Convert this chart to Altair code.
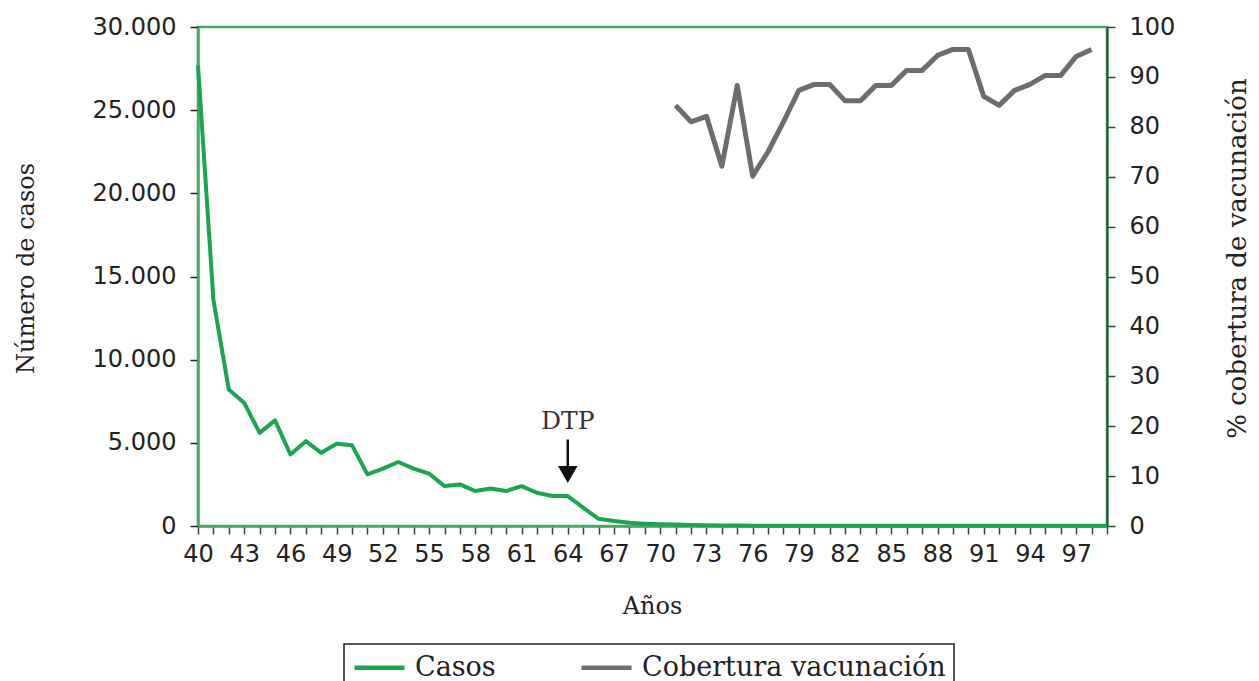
import altair as alt
import pandas as pd

# ---------------- data ----------------
years_casos = list(range(40, 100))
casos = [27700, 13600, 8200, 7400, 5600, 6350, 4300, 5100, 4400, 4950,
         4850, 3100, 3450, 3850, 3450, 3150, 2400, 2500, 2100, 2250,
         2100, 2400, 2000, 1800, 1800, 1100, 430, 300, 190, 140,
         110, 90, 60, 40, 30, 25, 20, 20, 20, 15,
         15, 15, 15, 12, 12, 12, 10, 10, 10, 10,
         10, 10, 10, 10, 10, 10, 10, 10, 10, 10]

years_cob = list(range(71, 99))
cobertura = [84.3, 81.0, 82.1, 72.1, 88.3, 70.1, 75.0, 81.0, 87.3, 88.5,
             88.5, 85.2, 85.2, 88.3, 88.3, 91.3, 91.3, 94.3, 95.5, 95.5,
             86.1, 84.3, 87.3, 88.5, 90.3, 90.3, 94.1, 95.5]

series = ["Casos", "Cobertura vacunación"]
left_ticks = [0, 5000, 10000, 15000, 20000, 25000, 30000]
right_ticks = list(range(0, 101, 10))
x_ticks = list(range(40, 100))

dtp_year = [64]
dtp_label_value = [6300]
arrow_top = [5200]
arrow_bottom = [3600]
arrow_head = [3100]

# ---------------- styling ----------------
GREEN = "#1ba552"
GRAY = "#6b6d6f"
AXIS_GREEN = "#47a868"
DARK_GREEN = "#1d5030"
SANS = "DejaVu Sans"
SERIF = "DejaVu Serif"

df_c = pd.DataFrame({"anio": years_casos, "valor": casos, "serie": series[0]})
df_v = pd.DataFrame({"anio": years_cob, "valor": cobertura, "serie": series[1]})
df_dtp = pd.DataFrame({"anio": dtp_year, "valor": dtp_label_value, "txt": ["DTP"]})
df_arrow = pd.DataFrame({"anio": dtp_year, "valor": arrow_top, "valor2": arrow_bottom})
df_head = pd.DataFrame({"anio": dtp_year, "valor": arrow_head})

x_enc = alt.X(
    "anio:Q",
    scale=alt.Scale(domain=[40, 99], nice=False, zero=False),
    axis=alt.Axis(
        values=x_ticks,
        labelExpr="(datum.value - 40) % 3 == 0 ? datum.label : ''",
        labelOverlap=False,
        labelFlush=False,
        title="Años",
        titleX=454,
        titleY=80,
        titleBaseline="middle",
        titleAlign="center",
        titleAnchor="middle",
        tickSize=8,
        tickColor="#2f4a38",
        tickWidth=1.5,
        domainColor=AXIS_GREEN,
        domainWidth=2.5,
        labelPadding=8,
        grid=False,
    ),
)

y_left = alt.Y(
    "valor:Q",
    scale=alt.Scale(domain=[0, 30000], nice=False),
    axis=alt.Axis(
        values=left_ticks,
        labelExpr="replace(format(datum.value, ','), ',', '.')",
        labelFlush=False,
        title="Número de casos",
        titleX=-172,
        titleY=241,
        titleAngle=270,
        titleBaseline="middle",
        titleAlign="center",
        tickSize=8,
        tickColor="#222222",
        tickWidth=1.5,
        domainColor=AXIS_GREEN,
        domainWidth=2.5,
        labelPadding=14,
        grid=False,
    ),
)

y_right = alt.Y(
    "valor:Q",
    scale=alt.Scale(domain=[0, 100], nice=False),
    axis=alt.Axis(
        orient="right",
        values=right_ticks,
        labelFlush=False,
        title="% cobertura de vacunación",
        titleX=130,
        titleY=231,
        titleAngle=270,
        titleBaseline="middle",
        titleAlign="center",
        titleFontSize=26,
        tickSize=8,
        tickColor=DARK_GREEN,
        tickWidth=1.5,
        domainColor=DARK_GREEN,
        domainWidth=2,
        labelPadding=14,
        grid=False,
    ),
)

color_enc = alt.Color(
    "serie:N",
    scale=alt.Scale(domain=series, range=[GREEN, GRAY]),
    legend=alt.Legend(
        title=None,
        orient="none",
        legendX=146,
        legendY=617,
        direction="horizontal",
        symbolType="M-1,0L2.85,0",
        symbolSize=676,
        symbolStrokeWidth=4.5,
        labelFont=SERIF,
        labelFontSize=27,
        labelColor="#222222",
        labelOffset=32,
        labelLimit=500,
        columnPadding=76,
        padding=8,
        strokeColor="#222222",
    ),
)

casos_line = alt.Chart(df_c).mark_line(strokeWidth=4, strokeJoin="round").encode(
    x=x_enc, y=y_left, color=color_enc
)

dtp_text = alt.Chart(df_dtp).mark_text(
    font=SERIF, fontSize=25, color="#333333", baseline="middle", align="center"
).encode(x=x_enc, y=y_left, text="txt:N")

arrow_rule = alt.Chart(df_arrow).mark_rule(color="#111111", strokeWidth=2.5).encode(
    x=x_enc, y=y_left, y2="valor2:Q"
)

arrow_tri = alt.Chart(df_head).mark_point(
    shape="triangle-down", filled=True, size=380, color="#111111", opacity=1
).encode(x=x_enc, y=y_left)

left_layer = alt.layer(casos_line, dtp_text, arrow_rule, arrow_tri)

cob_line = alt.Chart(df_v).mark_line(strokeWidth=5, strokeJoin="round").encode(
    x=x_enc, y=y_right, color=color_enc
)

chart = (
    alt.layer(left_layer, cob_line)
    .resolve_scale(y="independent")
    .properties(
        width=909,
        height=499,
        autosize=alt.AutoSizeParams(type="none"),
        padding={"left": 190, "top": 19, "right": 144, "bottom": 155},
    )
    .configure_view(stroke=AXIS_GREEN, strokeWidth=2.5)
    .configure_axis(
        labelFont=SANS,
        labelFontSize=24,
        labelColor="#222222",
        titleFont=SERIF,
        titleFontSize=24,
        titleFontWeight="normal",
        titleColor="#222222",
    )
    .configure_legend(strokeWidth=1.5)
)

chart.save("out.html", embed_options={"renderer": "svg", "actions": False})
